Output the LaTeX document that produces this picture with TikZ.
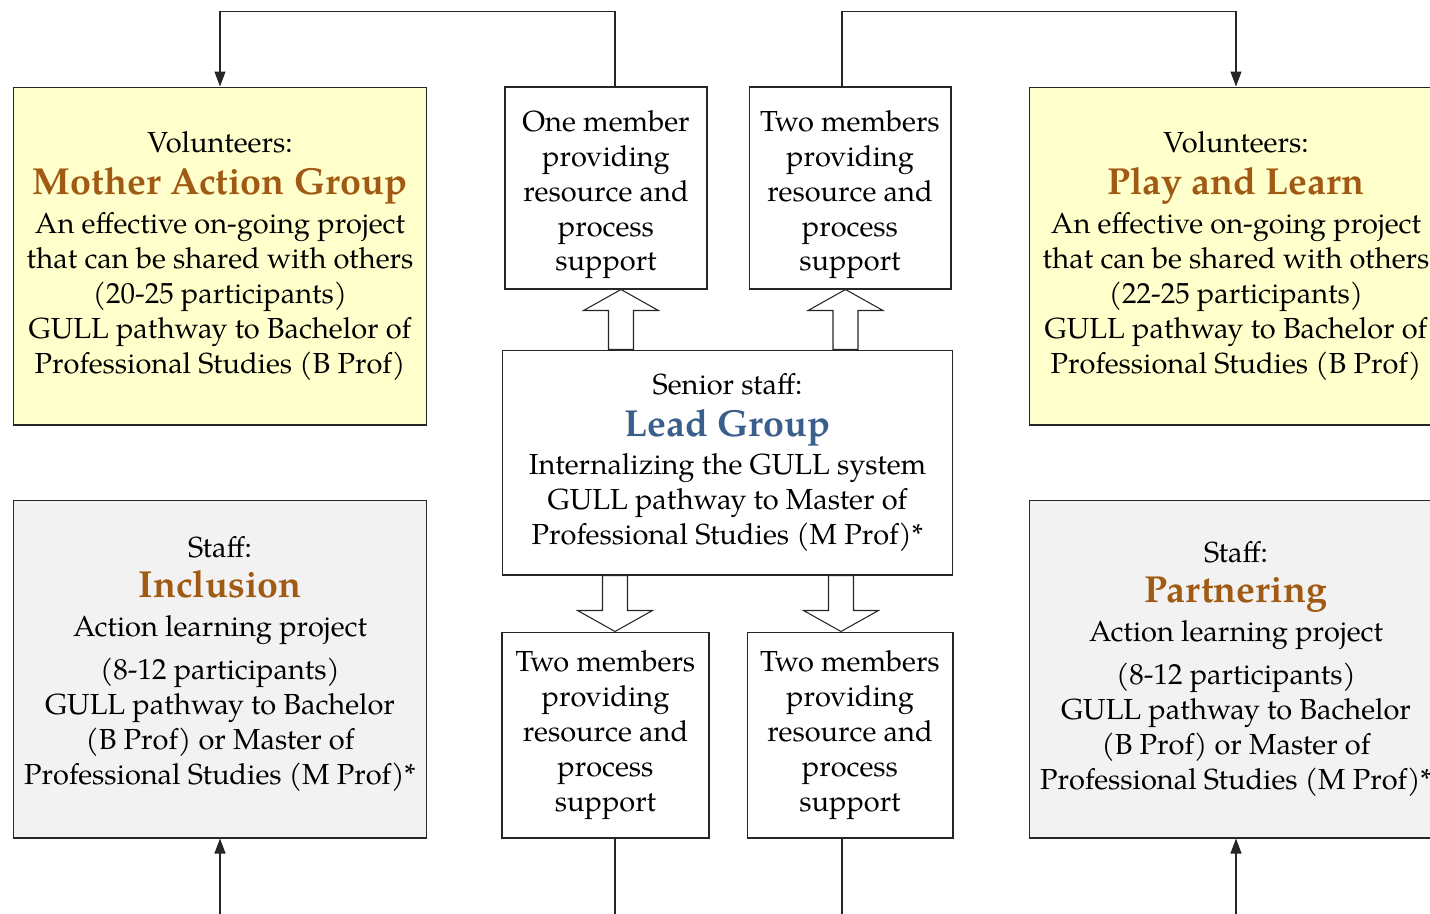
\documentclass[tikz,border=0pt]{standalone}
\usepackage{fontspec}
\setmainfont{TeX Gyre Pagella}
\usetikzlibrary{arrows.meta,calc}
\definecolor{volyellow}{HTML}{FFFFCC}
\definecolor{staffgrey}{HTML}{F2F2F2}
\definecolor{titlebrown}{HTML}{A05A14}
\definecolor{leadblue}{HTML}{3A5F8C}
\newcommand{\bodyfont}{\fontsize{16.5}{19.9}\selectfont}
\newcommand{\grouptitle}[2][titlebrown]{{\fontsize{21.4}{22}\selectfont\bfseries\color{#1}#2}}
\newcommand{\toppad}{\rule{0pt}{19.5pt}}
\newcommand{\botpad}{\rule[-9.7pt]{0pt}{0pt}}
% block arrow between two node anchors at a given x
\newcommand{\fatarrow}[3]{%
  \draw[fat] let \p1=(#1,0 |- #2), \p2=(#1,0 |- #3),
    \n1={\y2+11.94*sign(\y1-\y2)} in
    (\x1-7.11pt,\y1) -- (\x1-7.11pt,\n1*1pt) -- (\x1-21.3pt,\n1*1pt) -- (\p2)
    -- (\x1+21.3pt,\n1*1pt) -- (\x1+7.11pt,\n1*1pt) -- (\x1+7.11pt,\y1) -- cycle;}
\begin{document}
\begin{tikzpicture}[x=0.02cm,y=-0.02cm,
  box/.style={draw=black!85,line width=0.6pt,align=center,inner sep=0pt,font=\bodyfont},
  groupbox/.style={box,minimum width=8.28cm,minimum height=6.76cm},
  helpbox/.style={box,minimum width=4.1cm,minimum height=4.1cm},
  link/.style={line width=0.6pt,black!85},
  fat/.style={line width=0.6pt,draw=black!85,fill=white},
  >={Triangle[length=0.3cm,width=0.22cm]}]
  \clip (0,0) rectangle (1430,913);

  % project groups
  \node[groupbox,fill=volyellow] (mag) at (220,256) {Volunteers:\\[4pt] \grouptitle{Mother Action Group}\\[2.3pt] An effective on-going project\\ that can be shared with others\\ (20-25 participants)\\ GULL pathway to Bachelor of\\ Professional Studies (B Prof)};
  \node[groupbox,fill=volyellow] (pal) at (1236,256) {Volunteers:\\[4pt] \grouptitle{Play and Learn}\\[2.3pt] An effective on-going project\\ that can be shared with others\\ (22-25 participants)\\ GULL pathway to Bachelor of\\ Professional Studies (B Prof)};
  \node[groupbox,fill=staffgrey] (incl) at (220,669) {Staff:\\[2.8pt] \grouptitle{Inclusion}\\[2.3pt] Action learning project\\[5pt] (8-12 participants)\\ GULL pathway to Bachelor\\ (B Prof) or Master of\\ Professional Studies (M Prof)*\botpad};
  \node[groupbox,fill=staffgrey] (part) at (1236,669) {Staff:\\[2.8pt] \grouptitle{Partnering}\\[2.3pt] Action learning project\\[5pt] (8-12 participants)\\ GULL pathway to Bachelor\\ (B Prof) or Master of\\ Professional Studies (M Prof)*};

  % lead group and support members
  \node[box,minimum width=9.02cm,minimum height=4.5cm] (lead) at (727.5,462.5) {Senior staff:\\[4pt] \grouptitle[leadblue]{Lead Group}\\[1.7pt] Internalizing the GULL system\\ GULL pathway to Master of\\ Professional Studies (M Prof)*};
  \node[helpbox,minimum width=4.04cm,minimum height=4.04cm] (one) at (606,188) {\toppad One member\\ providing\\ resource and\\ process\\ support};
  \node[helpbox,minimum width=4.04cm,minimum height=4.04cm] (two) at (850,188) {\toppad Two members\\ providing\\ resource and\\ process\\ support};
  \node[helpbox,minimum width=4.14cm,minimum height=4.12cm] (supa) at (605.5,735) {Two members\\ providing\\ resource and\\ process\\ support};
  \node[helpbox,minimum width=4.12cm,minimum height=4.12cm] (supb) at (850,735) {Two members\\ providing\\ resource and\\ process\\ support};

  % block arrows
  \fatarrow{621}{lead.north}{one.south}
  \fatarrow{845.5}{lead.north}{two.south}
  \fatarrow{615}{lead.south}{supa.north}
  \fatarrow{841}{lead.south}{supb.north}

  % links to the groups
  \draw[link,->] (one.north) ++(9,0) -- ++(0,-75) -| (mag.north);
  \draw[link,->] (two.north) ++(-8,0) -- ++(0,-75) -| (pal.north);
  \draw[link,->] (supa.south) ++(9.5,0) -- ++(0,110) -| (incl.south);
  \draw[link,->] (supb.south) ++(-8,0) -- ++(0,110) -| (part.south);
\end{tikzpicture}
\end{document}
